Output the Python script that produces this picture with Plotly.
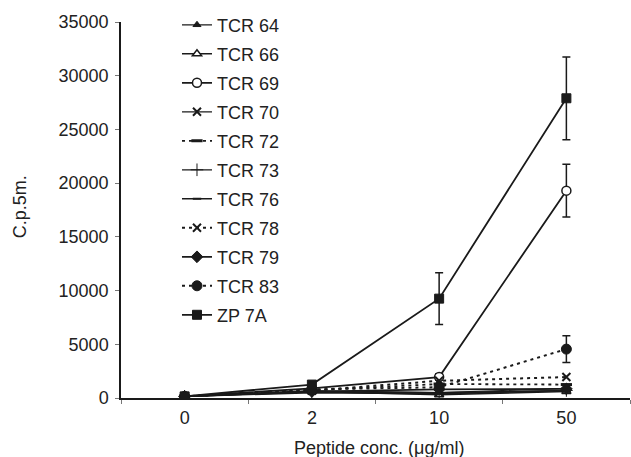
import plotly.graph_objects as go

concentrations = ["0", "2", "10", "50"]

series_names = ["TCR 64", "TCR 66", "TCR 69", "TCR 70", "TCR 72", "TCR 73",
                "TCR 76", "TCR 78", "TCR 79", "TCR 83", "ZP 7A"]

tcr64 = [150, 600, 400, 700]
tcr66 = [150, 600, 300, 600]
tcr69 = [150, 900, 1950, 19300]
tcr70 = [150, 700, 500, 900]
tcr72 = [150, 700, 1300, 1250]
tcr73 = [150, 600, 500, 700]
tcr76 = [150, 500, 400, 700]
tcr78 = [150, 700, 1600, 1950]
tcr79 = [150, 600, 800, 850]
tcr83 = [150, 800, 1000, 4550]
zp7a = [150, 1250, 9250, 27900]

tcr69_err = [None, None, 300, 2450]
tcr83_err = [None, None, None, 1250]
zp7a_err = [None, 150, 2400, 3850]

y_tick_values = [0, 5000, 10000, 15000, 20000, 25000, 30000, 35000]

values = [tcr64, tcr66, tcr69, tcr70, tcr72, tcr73, tcr76, tcr78, tcr79, tcr83, zp7a]
errors = [None, None, tcr69_err, None, None, None, None, None, None, tcr83_err, zp7a_err]

INK = "#1a1a1a"
SOLID = "solid"
DOT = "3px,4px"
styles = [
    dict(symbol="triangle-up", size=7, color=INK, lw=1.2, dash=SOLID, mlw=1),
    dict(symbol="triangle-up", size=8, color="white", lw=1.6, dash=SOLID, mlw=1.5),
    dict(symbol="circle", size=9, color="white", lw=1.8, dash=SOLID, mlw=1.5),
    dict(symbol="x-thin-open", size=8, color=INK, lw=1.2, dash=SOLID, mlw=2),
    dict(symbol="line-ew-open", size=8, color=INK, lw=1.8, dash=DOT, mlw=3),
    dict(symbol="cross-thin-open", size=9, color=INK, lw=1.2, dash=SOLID, mlw=1),
    dict(symbol="line-ew-open", size=6, color=INK, lw=1.6, dash=SOLID, mlw=2),
    dict(symbol="x-thin-open", size=8, color=INK, lw=2.0, dash=DOT, mlw=2),
    dict(symbol="diamond", size=9, color=INK, lw=1.8, dash=SOLID, mlw=1),
    dict(symbol="circle", size=10, color=INK, lw=2.0, dash=DOT, mlw=1),
    dict(symbol="square", size=9, color=INK, lw=1.8, dash=SOLID, mlw=1),
]

fig = go.Figure()
for i, (name, vals, err, st) in enumerate(zip(series_names, values, errors, styles)):
    tr = dict(
        x=concentrations, y=vals, name=name, mode="lines+markers",
        legendgroup=f"g{i}",
        line=dict(color=INK, width=st["lw"], dash=st["dash"]),
        marker=dict(symbol=st["symbol"], size=st["size"], color=st["color"],
                    line=dict(color=INK, width=st["mlw"])),
    )
    if err is not None:
        tr["error_y"] = dict(type="data", array=err, visible=True,
                             color=INK, thickness=1.5, width=4)
    fig.add_trace(go.Scatter(**tr))

FONT = "Liberation Sans, Arial, sans-serif"
fig.update_layout(
    width=631, height=457,
    margin=dict(l=121, r=1, t=22, b=59, autoexpand=False),
    paper_bgcolor="white", plot_bgcolor="white",
    font=dict(family=FONT, size=18, color="#222"),
    showlegend=True,
    legend=dict(x=0.11, y=1.041, xanchor="left", yanchor="top",
                bgcolor="rgba(0,0,0,0)", tracegroupgap=2.6, maxheight=450,
                font=dict(size=18, family=FONT, color="#222")),
    xaxis=dict(type="category", categoryorder="array", categoryarray=concentrations,
               range=[-0.5, 3.5], showline=True, linecolor=INK, linewidth=1.5,
               ticks="outside", tickson="boundaries", ticklen=4, tickcolor="#777",
               ticklabelstandoff=3,
               showgrid=False, zeroline=False, tickfont=dict(size=18)),
    yaxis=dict(range=[0, 35000], tickvals=y_tick_values, tickformat="d",
               showline=True, linecolor=INK, linewidth=1.5,
               ticks="outside", ticklen=4, tickcolor="#777",
               ticklabelstandoff=3,
               showgrid=False, zeroline=False, tickfont=dict(size=18)),
    annotations=[
        dict(text="C.p.5m.", xref="paper", yref="paper", x=-0.198, y=0.508,
             textangle=-90, showarrow=False, xanchor="center", yanchor="middle",
             font=dict(size=18)),
        dict(text="Peptide conc. (\u03bcg/ml)", xref="paper", yref="paper",
             x=0.507, y=-0.133, showarrow=False, xanchor="center", yanchor="middle",
             font=dict(size=18)),
    ],
)

fig.write_html("out.html", config={"displayModeBar": False},
               post_script="document.body.style.margin='0';document.body.style.overflow='hidden';")
